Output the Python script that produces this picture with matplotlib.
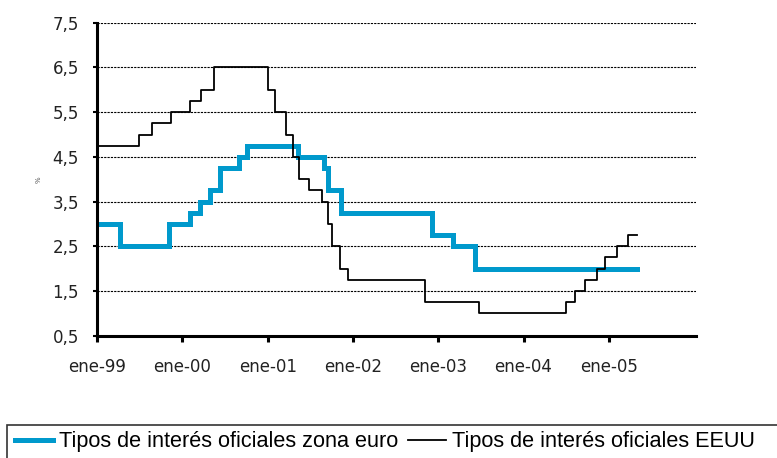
import numpy as np
import pandas as pd
import matplotlib
matplotlib.use('Agg')
import matplotlib.pyplot as plt
import matplotlib.dates as mdates
from matplotlib.patches import Rectangle

# tipos oficiales zona euro (BCE)
euro_dates = ['1999-01-01', '1999-04-09', '1999-11-05', '2000-02-04', '2000-03-17',
              '2000-04-28', '2000-06-09', '2000-09-01', '2000-10-06', '2001-05-11',
              '2001-08-31', '2001-09-18', '2001-11-09', '2002-12-06', '2003-03-07',
              '2003-06-06', '2005-04-30']
euro_rates = [3.0, 2.5, 3.0, 3.25, 3.5, 3.75, 4.25, 4.5, 4.75, 4.5,
              4.25, 3.75, 3.25, 2.75, 2.5, 2.0, 2.0]

# tipos oficiales EEUU (Fed)
us_dates = ['1999-01-01', '1999-06-30', '1999-08-24', '1999-11-16', '2000-02-02',
            '2000-03-21', '2000-05-16', '2001-01-03', '2001-01-31', '2001-03-20',
            '2001-04-18', '2001-05-15', '2001-06-27', '2001-08-21', '2001-09-17',
            '2001-10-02', '2001-11-06', '2001-12-11', '2002-11-06', '2003-06-25',
            '2004-06-30', '2004-08-10', '2004-09-21', '2004-11-10', '2004-12-14',
            '2005-02-02', '2005-03-22', '2005-04-30']
us_rates = [4.75, 5.0, 5.25, 5.5, 5.75, 6.0, 6.5, 6.0, 5.5, 5.0,
            4.5, 4.0, 3.75, 3.5, 3.0, 2.5, 2.0, 1.75, 1.25, 1.0,
            1.25, 1.5, 1.75, 2.0, 2.25, 2.5, 2.75, 2.75]

y_ticks = [0.5, 1.5, 2.5, 3.5, 4.5, 5.5, 6.5, 7.5]
y_labels = ['0,5', '1,5', '2,5', '3,5', '4,5', '5,5', '6,5', '7,5']
x_years = ['1999', '2000', '2001', '2002', '2003', '2004', '2005']
x_labels = ['ene-99', 'ene-00', 'ene-01', 'ene-02', 'ene-03', 'ene-04', 'ene-05']

series_names = ['Tipos de interés oficiales zona euro', 'Tipos de interés oficiales EEUU']
blue = '#0099CC'

fig = plt.figure(figsize=(7.77, 4.58), dpi=100)
ax = fig.add_axes([0.1248, 0.267, 0.7709, 0.6834])

l1, = ax.plot(pd.to_datetime(euro_dates), euro_rates, drawstyle='steps-post',
              color=blue, lw=3.6, solid_joinstyle='miter')
l2, = ax.plot(pd.to_datetime(us_dates), us_rates, drawstyle='steps-post',
              color='black', lw=1.3)

ax.set_ylim(0.5, 7.5)
ax.set_xlim(pd.Timestamp('1999-01-01'), pd.Timestamp('2006-01-08'))
ax.set_yticks(y_ticks)
ax.set_yticklabels(y_labels, fontsize=12, color='#222222')
ax.set_xticks(pd.to_datetime([y + '-01-01' for y in x_years]))
ax.set_xticklabels(x_labels, fontsize=12, color='#222222')

for v in y_ticks[1:]:
    ax.axhline(v, color='black', lw=0.8, ls=(0, (2, 1)), zorder=0)

for side in ['top', 'right']:
    ax.spines[side].set_visible(False)
for side in ['left', 'bottom']:
    ax.spines[side].set_linewidth(2.2)
ax.tick_params(axis='x', direction='out', length=4, width=2.2, pad=12)
ax.tick_params(axis='y', direction='out', length=3, width=1.5, pad=10)

ax.set_ylabel('%', fontsize=5, color='#555555', labelpad=8)

# recuadro de la leyenda, cortado por el borde derecho e inferior
fig.patches.append(Rectangle((7 / 777, -0.05), 1.1, (458 - 425) / 458 + 0.05,
                             transform=fig.transFigure, fill=False,
                             edgecolor='#333333', lw=1.2))
fig.legend([l1, l2], series_names, ncol=2, frameon=False,
           loc='center left', bbox_to_anchor=(15 / 777, 16 / 458),
           prop={'family': ['Liberation Sans', 'DejaVu Sans'], 'size': 15.6},
           handlelength=1.75, handletextpad=0.28, columnspacing=0.45,
           borderaxespad=0, borderpad=0)

fig.savefig('out.png', dpi=100)
